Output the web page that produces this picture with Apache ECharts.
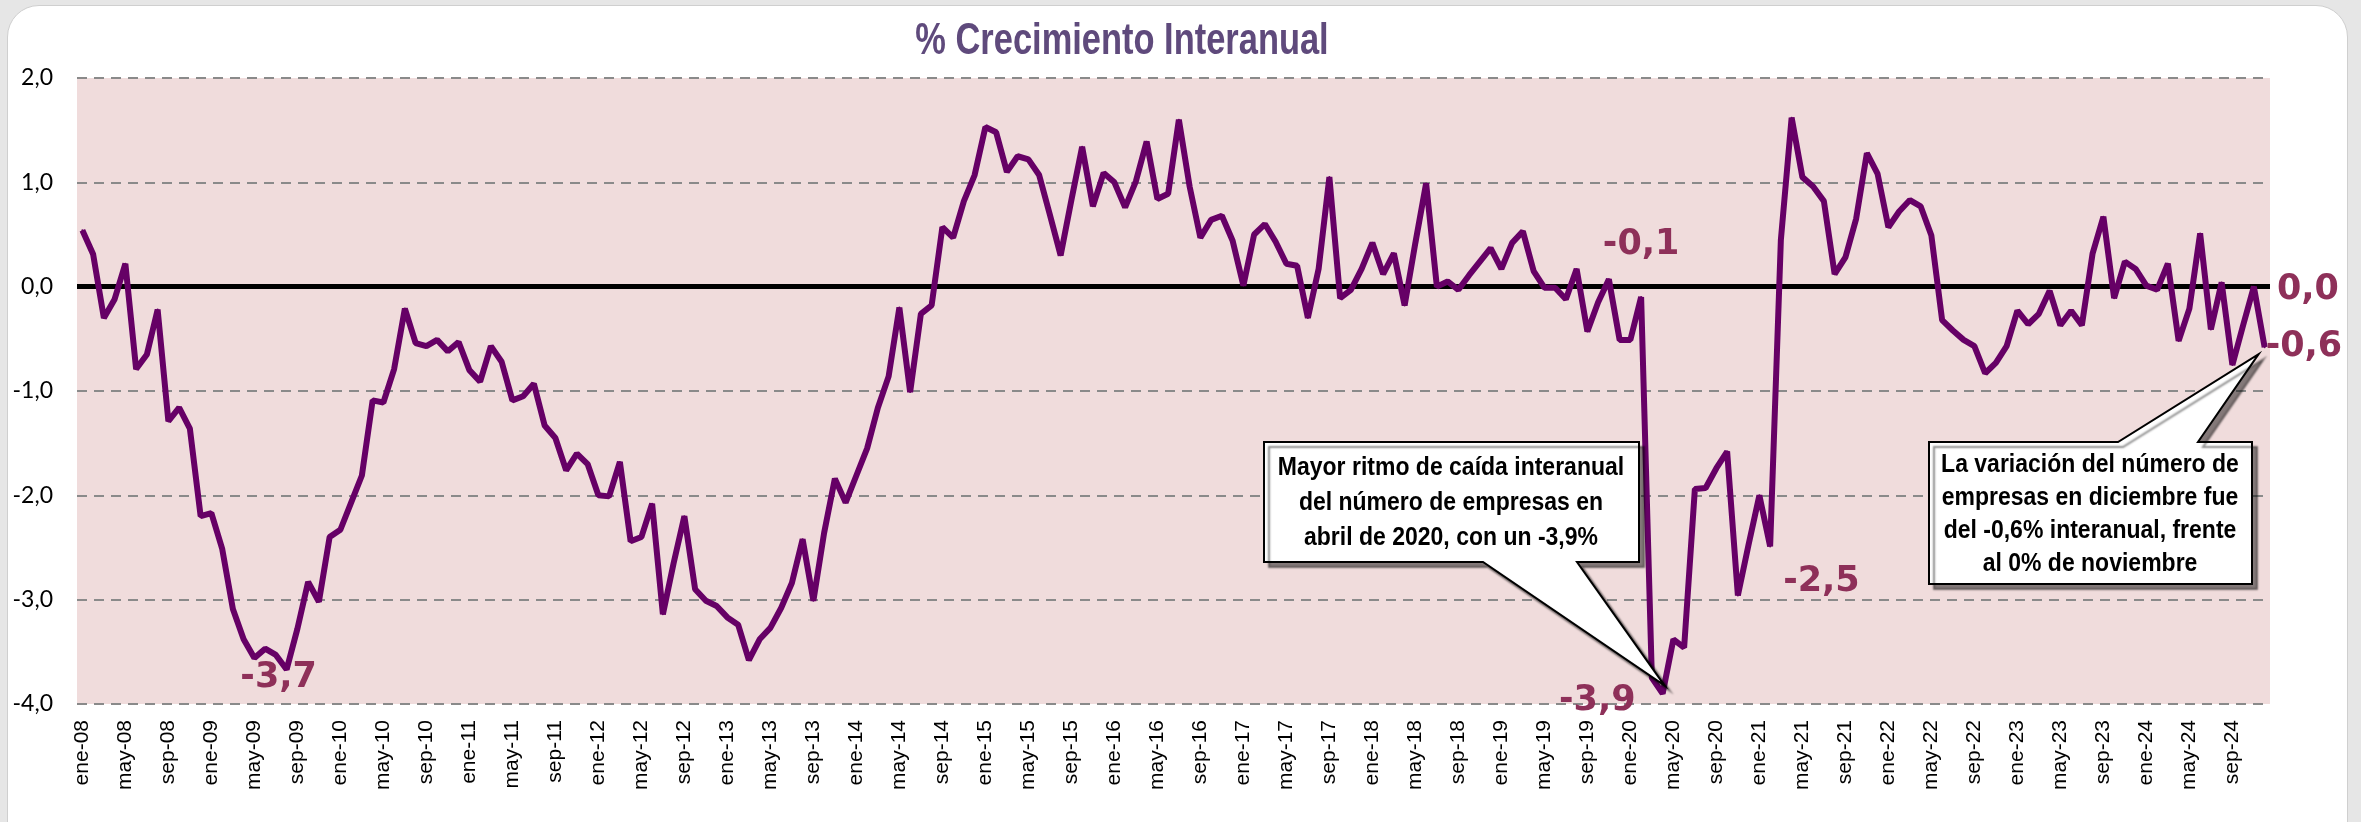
<!DOCTYPE html>
<html>
<head>
<meta charset="utf-8">
<script src="https://cdn.jsdelivr.net/npm/echarts@6/dist/echarts.min.js"></script>
<style>
  html, body { margin: 0; padding: 0; background: #e6e6e6; overflow: hidden; }
  #tarjeta { position: absolute; left: 7px; top: 5px; width: 2339px; height: 860px;
             background: #fff; border: 1px solid #cfcfcf; border-radius: 32px; }
  #main { position: absolute; left: 0; top: 0; width: 2361px; height: 822px; }
</style>
</head>
<body>
<div id="tarjeta"></div>
<div id="main"></div>
<script>
// categorias: ene-08 ... dic-24
var meses = ['ene', 'feb', 'mar', 'abr', 'may', 'jun', 'jul', 'ago', 'sep', 'oct', 'nov', 'dic'];
var anios = ['08', '09', '10', '11', '12', '13', '14', '15', '16', '17', '18', '19', '20', '21', '22', '23', '24'];

// % crecimiento interanual del numero de empresas, por año
var v2008 = [0.54, 0.31, -0.30, -0.12, 0.22, -0.79, -0.65, -0.22, -1.29, -1.16, -1.36, -2.20];
var v2009 = [-2.17, -2.51, -3.09, -3.38, -3.56, -3.47, -3.53, -3.67, -3.28, -2.83, -3.02, -2.40];
var v2010 = [-2.33, -2.07, -1.81, -1.09, -1.11, -0.79, -0.21, -0.54, -0.57, -0.51, -0.62, -0.53];
var v2011 = [-0.80, -0.91, -0.57, -0.72, -1.09, -1.05, -0.93, -1.33, -1.45, -1.76, -1.60, -1.70];
var v2012 = [-2.00, -2.01, -1.68, -2.44, -2.40, -2.08, -3.14, -2.65, -2.20, -2.90, -3.01, -3.06];
var v2013 = [-3.17, -3.24, -3.58, -3.38, -3.27, -3.08, -2.84, -2.42, -3.01, -2.36, -1.84, -2.07];
var v2014 = [-1.81, -1.55, -1.16, -0.86, -0.20, -1.01, -0.26, -0.18, 0.57, 0.47, 0.82, 1.07];
var v2015 = [1.53, 1.48, 1.10, 1.25, 1.22, 1.07, 0.69, 0.30, 0.83, 1.34, 0.77, 1.09];
var v2016 = [1.00, 0.76, 1.01, 1.39, 0.84, 0.89, 1.60, 0.96, 0.47, 0.64, 0.68, 0.44];
var v2017 = [0.01, 0.50, 0.60, 0.43, 0.22, 0.20, -0.30, 0.17, 1.05, -0.11, -0.03, 0.17];
var v2018 = [0.42, 0.12, 0.32, -0.18, 0.42, 0.99, 0.00, 0.05, -0.03, 0.11, 0.24, 0.37];
var v2019 = [0.17, 0.42, 0.53, 0.15, -0.01, -0.01, -0.12, 0.17, -0.43, -0.15, 0.07, -0.51];
var v2020 = [-0.51, -0.10, -3.75, -3.90, -3.38, -3.46, -1.94, -1.93, -1.74, -1.58, -2.96, -2.47];
var v2021 = [-2.00, -2.49, 0.45, 1.62, 1.05, 0.96, 0.82, 0.12, 0.28, 0.65, 1.28, 1.08];
var v2022 = [0.57, 0.72, 0.83, 0.77, 0.49, -0.32, -0.42, -0.51, -0.57, -0.83, -0.73, -0.57];
var v2023 = [-0.23, -0.36, -0.26, -0.04, -0.37, -0.23, -0.37, 0.32, 0.67, -0.11, 0.24, 0.17];
var v2024 = [0.01, -0.03, 0.22, -0.52, -0.21, 0.51, -0.41, 0.04, -0.75, -0.37, 0.00, -0.58];

// puntos con etiqueta de valor (indices en la serie)
var etiquetados = [19, 145, 147, 157, 202, 203];

var categorias = [];
anios.forEach(function (a) {
  meses.forEach(function (m) { categorias.push(m + '-' + a); });
});
var valores = [].concat(v2008, v2009, v2010, v2011, v2012, v2013, v2014, v2015, v2016,
  v2017, v2018, v2019, v2020, v2021, v2022, v2023, v2024);

function coma(v) {
  return v.toFixed(1).replace('.', ',');
}

// colocacion de cada etiqueta
var estiloEtiqueta = {
  19: { position: 'bottom', distance: 0, offset: [-8, -10] },
  145: { position: 'top', distance: 34, offset: [0, 0] },
  147: { position: 'left', distance: 26, offset: [0, 7] },
  157: { position: 'right', distance: 12, offset: [0, 35] },
  202: { position: 'right', distance: 22, offset: [0, 3] },
  203: { position: 'right', distance: 0, offset: [0, 0] }
};

var datosSerie = valores.map(function (v, i) {
  if (etiquetados.indexOf(i) < 0) return v;
  var e = estiloEtiqueta[i];
  return {
    value: v,
    label: {
      show: true,
      position: e.position,
      distance: e.distance,
      offset: e.offset,
      formatter: function (p) { return coma(p.value); }
    }
  };
});

var chart = echarts.init(document.getElementById('main'));

var option = {
  animation: false,
  backgroundColor: 'transparent',
  grid: {
    left: 77,
    right: 91,
    top: 78,
    bottom: 118,
    show: true,
    backgroundColor: '#f0dcdc',
    borderWidth: 0
  },
  xAxis: {
    type: 'category',
    data: categorias,
    boundaryGap: true,
    axisLine: { show: false },
    axisTick: { show: false },
    splitLine: { show: false },
    axisLabel: {
      interval: 3,
      rotate: 90,
      margin: 16,
      color: '#000',
      fontFamily: '"Liberation Sans", Arial, sans-serif',
      fontSize: 21
    }
  },
  yAxis: {
    type: 'value',
    min: -4,
    max: 2,
    interval: 1,
    axisLine: { show: false },
    axisTick: { show: false },
    axisLabel: {
      margin: 24,
      color: '#000',
      fontFamily: 'Lato, "Open Sans", sans-serif',
      fontSize: 23,
      formatter: function (v) { return coma(v); }
    },
    splitLine: {
      show: true,
      lineStyle: { color: '#8a8a8a', width: 2, type: [10, 7] }
    }
  },
  series: [
    {
      type: 'line',
      data: datosSerie,
      symbol: 'circle',
      symbolSize: 2,
      showSymbol: true,
      showAllSymbol: true,
      lineStyle: { color: '#660066', width: 6 },
      itemStyle: { color: '#660066' },
      z: 3,
      label: {
        show: false,
        color: '#8e3059',
        fontFamily: '"DejaVu Sans", Verdana, sans-serif',
        fontWeight: 'bold',
        fontSize: 35
      },
      markLine: {
        silent: true,
        symbol: 'none',
        label: { show: false },
        lineStyle: { color: '#000', width: 5, type: 'solid' },
        data: [{ yAxis: 0 }],
        z: 2
      }
    }
  ]
};

chart.setOption(option);

// globos de texto con la punta sobre el dato
function punto(i) {
  return chart.convertToPixel({ seriesIndex: 0 }, [i, valores[i]]);
}

var sombra = {
  fill: '#fff',
  stroke: '#000',
  lineWidth: 2,
  shadowColor: 'rgba(0,0,0,0.45)',
  shadowBlur: 2,
  shadowOffsetX: 5,
  shadowOffsetY: 5
};

var p1 = punto(147);
var p2 = punto(203);

var textoGlobo = {
  fill: '#000',
  font: 'bold 23px "Liberation Sans", Arial, sans-serif',
  textAlign: 'center',
  textVerticalAlign: 'middle'
};

chart.setOption({
  graphic: [
    {
      // titulo en letra estrecha
      type: 'text',
      x: 1122,
      y: 42,
      scaleX: 0.82,
      scaleY: 1.05,
      z: 60,
      style: {
        text: '% Crecimiento Interanual',
        fill: '#5f4a7c',
        font: 'bold 42px "Liberation Sans", Arial, sans-serif',
        textAlign: 'center',
        textVerticalAlign: 'middle'
      }
    },
    {
      type: 'polygon',
      z: 50,
      shape: {
        points: [[1264, 442], [1639, 442], [1639, 562], [1577, 562],
          [p1[0] + 2, p1[1] - 8], [1483, 562], [1264, 562]]
      },
      style: sombra
    },
    {
      type: 'text',
      z: 51,
      x: 1451,
      y: 503,
      scaleY: 1.12,
      style: Object.assign({
        x: 0, y: 0, lineHeight: 31,
        text: 'Mayor ritmo de caída interanual\ndel número de empresas en\nabril de 2020, con un -3,9%'
      }, textoGlobo)
    },
    {
      type: 'polygon',
      z: 50,
      shape: {
        points: [[1929, 442], [2118, 442], [p2[0] - 6, p2[1] + 7], [2198, 442],
          [2252, 442], [2252, 584], [1929, 584]]
      },
      style: sombra
    },
    {
      type: 'text',
      z: 51,
      x: 2090,
      y: 514,
      scaleY: 1.12,
      style: Object.assign({
        x: 0, y: 0, lineHeight: 29.5,
        text: 'La variación del número de\nempresas en diciembre fue\ndel -0,6% interanual, frente\nal 0% de noviembre'
      }, textoGlobo)
    }
  ]
});
</script>
</body>
</html>
